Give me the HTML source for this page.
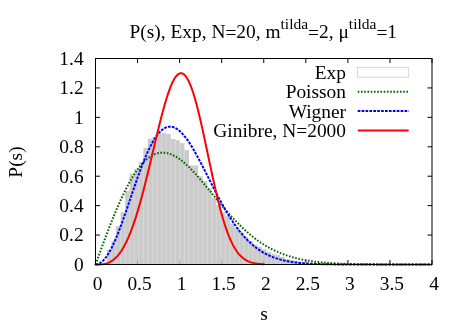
<!DOCTYPE html>
<html><head><meta charset="utf-8"><title>P(s)</title>
<style>
html,body{margin:0;padding:0;background:#fff;}
svg{display:block;will-change:transform;}
text{font-family:"Liberation Serif",serif;font-size:19.4px;fill:#000;}
</style></head><body>
<svg width="467" height="327" viewBox="0 0 467 327">
<rect width="467" height="327" fill="#fff"/>
<g stroke="#000" stroke-width="1" fill="none">
<path d="M95.50,264.5 v-4.5 M95.50,58.5 v4.5"/>
<path d="M137.56,264.5 v-4.5 M137.56,58.5 v4.5"/>
<path d="M179.62,264.5 v-4.5 M179.62,58.5 v4.5"/>
<path d="M221.69,264.5 v-4.5 M221.69,58.5 v4.5"/>
<path d="M263.75,264.5 v-4.5 M263.75,58.5 v4.5"/>
<path d="M305.81,264.5 v-4.5 M305.81,58.5 v4.5"/>
<path d="M347.88,264.5 v-4.5 M347.88,58.5 v4.5"/>
<path d="M389.94,264.5 v-4.5 M389.94,58.5 v4.5"/>
<path d="M432.00,264.5 v-4.5 M432.00,58.5 v4.5"/>
<path d="M95.5,264.50 h4.5 M432.0,264.50 h-4.5"/>
<path d="M95.5,235.07 h4.5 M432.0,235.07 h-4.5"/>
<path d="M95.5,205.64 h4.5 M432.0,205.64 h-4.5"/>
<path d="M95.5,176.21 h4.5 M432.0,176.21 h-4.5"/>
<path d="M95.5,146.79 h4.5 M432.0,146.79 h-4.5"/>
<path d="M95.5,117.36 h4.5 M432.0,117.36 h-4.5"/>
<path d="M95.5,87.93 h4.5 M432.0,87.93 h-4.5"/>
<path d="M95.5,58.50 h4.5 M432.0,58.50 h-4.5"/>
</g>
<g fill="#cbcbcb" stroke="none">
<path d="M106.90,264.50 L106.90,249.70 L111.46,249.70 L111.46,241.30 L116.02,241.30 L116.02,226.00 L120.58,226.00 L120.58,212.30 L125.14,212.30 L125.14,191.10 L129.70,191.10 L129.70,173.40 L134.26,173.40 L134.26,169.10 L138.82,169.10 L138.82,162.30 L143.38,162.30 L143.38,148.00 L147.94,148.00 L147.94,138.70 L152.50,138.70 L152.50,137.00 L157.06,137.00 L157.06,133.60 L161.62,133.60 L161.62,133.00 L166.18,133.00 L166.18,134.00 L170.74,134.00 L170.74,139.10 L175.30,139.10 L175.30,140.20 L179.86,140.20 L179.86,143.20 L184.42,143.20 L184.42,150.00 L188.98,150.00 L188.98,165.40 L193.54,165.40 L193.54,165.40 L198.10,165.40 L198.10,176.20 L202.66,176.20 L202.66,181.30 L207.22,181.30 L207.22,188.60 L211.78,188.60 L211.78,198.00 L216.34,198.00 L216.34,205.00 L220.90,205.00 L220.90,212.30 L225.46,212.30 L225.46,216.10 L230.02,216.10 L230.02,223.40 L234.58,223.40 L234.58,228.00 L239.14,228.00 L239.14,232.50 L243.70,232.50 L243.70,237.00 L248.26,237.00 L248.26,240.90 L252.82,240.90 L252.82,244.80 L257.38,244.80 L257.38,246.70 L261.94,246.70 L261.94,249.30 L266.50,249.30 L266.50,252.10 L271.06,252.10 L271.06,253.80 L275.62,253.80 L275.62,255.00 L280.18,255.00 L280.18,257.00 L284.74,257.00 L284.74,258.90 L289.30,258.90 L289.30,260.20 L293.86,260.20 L293.86,261.00 L298.42,261.00 L298.42,261.80 L302.98,261.80 L302.98,262.30 L307.54,262.30 L307.54,262.80 L312.10,262.80 L312.10,263.20 L316.66,263.20 L316.66,263.50 L321.22,263.50 L321.22,263.80 L325.78,263.80 L325.78,263.80 L330.34,263.80 L330.34,263.80 L334.90,263.80 L334.90,263.80 L339.46,263.80 L339.46,263.80 L344.02,263.80 L344.02,263.80 L348.58,263.80 L348.58,264.50 Z"/>
</g>
<g stroke="#fff" stroke-opacity="0.22" stroke-width="1.2" fill="none">
<path d="M111.46,249.70 V264.5"/>
<path d="M116.02,241.30 V264.5"/>
<path d="M120.58,226.00 V264.5"/>
<path d="M125.14,212.30 V264.5"/>
<path d="M129.70,191.10 V264.5"/>
<path d="M134.26,173.40 V264.5"/>
<path d="M138.82,169.10 V264.5"/>
<path d="M143.38,162.30 V264.5"/>
<path d="M147.94,148.00 V264.5"/>
<path d="M152.50,138.70 V264.5"/>
<path d="M157.06,137.00 V264.5"/>
<path d="M161.62,133.60 V264.5"/>
<path d="M166.18,134.00 V264.5"/>
<path d="M170.74,139.10 V264.5"/>
<path d="M175.30,140.20 V264.5"/>
<path d="M179.86,143.20 V264.5"/>
<path d="M184.42,150.00 V264.5"/>
<path d="M188.98,165.40 V264.5"/>
<path d="M193.54,165.40 V264.5"/>
<path d="M198.10,176.20 V264.5"/>
<path d="M202.66,181.30 V264.5"/>
<path d="M207.22,188.60 V264.5"/>
<path d="M211.78,198.00 V264.5"/>
<path d="M216.34,205.00 V264.5"/>
<path d="M220.90,212.30 V264.5"/>
<path d="M225.46,216.10 V264.5"/>
<path d="M230.02,223.40 V264.5"/>
<path d="M234.58,228.00 V264.5"/>
<path d="M239.14,232.50 V264.5"/>
<path d="M243.70,237.00 V264.5"/>
<path d="M248.26,240.90 V264.5"/>
<path d="M252.82,244.80 V264.5"/>
<path d="M257.38,246.70 V264.5"/>
<path d="M261.94,249.30 V264.5"/>
<path d="M266.50,252.10 V264.5"/>
<path d="M271.06,253.80 V264.5"/>
<path d="M275.62,255.00 V264.5"/>
<path d="M280.18,257.00 V264.5"/>
<path d="M284.74,258.90 V264.5"/>
<path d="M289.30,260.20 V264.5"/>
<path d="M293.86,261.00 V264.5"/>
<path d="M298.42,261.80 V264.5"/>
<path d="M302.98,262.30 V264.5"/>
<path d="M307.54,262.80 V264.5"/>
<path d="M312.10,263.20 V264.5"/>
<path d="M316.66,263.50 V264.5"/>
<path d="M321.22,263.80 V264.5"/>
<path d="M325.78,263.80 V264.5"/>
<path d="M330.34,263.80 V264.5"/>
<path d="M334.90,263.80 V264.5"/>
<path d="M339.46,263.80 V264.5"/>
<path d="M344.02,263.80 V264.5"/>
</g>
<g stroke="#000" stroke-opacity="0.22" stroke-width="1" fill="none">
<path d="M137.56,264.5 v-3.8"/>
<path d="M179.62,264.5 v-3.8"/>
<path d="M221.69,264.5 v-3.8"/>
<path d="M263.75,264.5 v-3.8"/>
</g>
<g fill="none" stroke-linejoin="round">
<path d="M95.50,264.50 L96.34,262.19 L97.18,259.88 L98.02,257.57 L98.86,255.27 L99.71,252.97 L100.55,250.67 L101.39,248.38 L102.23,246.10 L103.07,243.83 L103.91,241.57 L104.75,239.32 L105.59,237.08 L106.44,234.85 L107.28,232.64 L108.12,230.44 L108.96,228.26 L109.80,226.09 L110.64,223.94 L111.48,221.81 L112.33,219.70 L113.17,217.61 L114.01,215.55 L114.85,213.50 L115.69,211.48 L116.53,209.49 L117.37,207.51 L118.21,205.57 L119.06,203.65 L119.90,201.76 L120.74,199.89 L121.58,198.06 L122.42,196.25 L123.26,194.48 L124.10,192.74 L124.94,191.02 L125.78,189.35 L126.63,187.70 L127.47,186.09 L128.31,184.51 L129.15,182.97 L129.99,181.46 L130.83,179.98 L131.67,178.55 L132.51,177.15 L133.36,175.78 L134.20,174.46 L135.04,173.17 L135.88,171.92 L136.72,170.71 L137.56,169.54 L138.40,168.40 L139.25,167.31 L140.09,166.25 L140.93,165.24 L141.77,164.26 L142.61,163.32 L143.45,162.43 L144.29,161.57 L145.13,160.75 L145.97,159.98 L146.82,159.24 L147.66,158.54 L148.50,157.88 L149.34,157.27 L150.18,156.69 L151.02,156.15 L151.86,155.65 L152.71,155.19 L153.55,154.77 L154.39,154.39 L155.23,154.05 L156.07,153.74 L156.91,153.48 L157.75,153.25 L158.59,153.06 L159.44,152.90 L160.28,152.78 L161.12,152.70 L161.96,152.66 L162.80,152.65 L163.64,152.67 L164.48,152.73 L165.32,152.82 L166.16,152.95 L167.01,153.11 L167.85,153.31 L168.69,153.53 L169.53,153.79 L170.37,154.07 L171.21,154.39 L172.05,154.74 L172.90,155.12 L173.74,155.52 L174.58,155.96 L175.42,156.42 L176.26,156.91 L177.10,157.42 L177.94,157.96 L178.78,158.53 L179.62,159.12 L180.47,159.73 L181.31,160.37 L182.15,161.03 L182.99,161.71 L183.83,162.41 L184.67,163.13 L185.51,163.87 L186.36,164.63 L187.20,165.41 L188.04,166.21 L188.88,167.02 L189.72,167.85 L190.56,168.69 L191.40,169.55 L192.24,170.43 L193.08,171.32 L193.93,172.22 L194.77,173.13 L195.61,174.06 L196.45,174.99 L197.29,175.94 L198.13,176.89 L198.97,177.86 L199.81,178.83 L200.66,179.81 L201.50,180.80 L202.34,181.80 L203.18,182.80 L204.02,183.81 L204.86,184.82 L205.70,185.84 L206.55,186.86 L207.39,187.88 L208.23,188.90 L209.07,189.93 L209.91,190.96 L210.75,191.99 L211.59,193.02 L212.43,194.06 L213.28,195.09 L214.12,196.12 L214.96,197.15 L215.80,198.17 L216.64,199.20 L217.48,200.22 L218.32,201.24 L219.16,202.25 L220.00,203.27 L220.85,204.27 L221.69,205.28 L222.53,206.28 L223.37,207.27 L224.21,208.26 L225.05,209.24 L225.89,210.21 L226.74,211.18 L227.58,212.14 L228.42,213.09 L229.26,214.04 L230.10,214.98 L230.94,215.91 L231.78,216.83 L232.62,217.75 L233.47,218.65 L234.31,219.55 L235.15,220.44 L235.99,221.32 L236.83,222.19 L237.67,223.05 L238.51,223.90 L239.35,224.74 L240.19,225.57 L241.04,226.39 L241.88,227.20 L242.72,228.00 L243.56,228.79 L244.40,229.57 L245.24,230.34 L246.08,231.09 L246.93,231.84 L247.77,232.58 L248.61,233.30 L249.45,234.02 L250.29,234.72 L251.13,235.42 L251.97,236.10 L252.81,236.77 L253.66,237.43 L254.50,238.08 L255.34,238.72 L256.18,239.35 L257.02,239.97 L257.86,240.57 L258.70,241.17 L259.54,241.76 L260.38,242.33 L261.23,242.89 L262.07,243.45 L262.91,243.99 L263.75,244.52 L264.59,245.05 L265.43,245.56 L266.27,246.06 L267.12,246.55 L267.96,247.04 L268.80,247.51 L269.64,247.97 L270.48,248.42 L271.32,248.87 L272.16,249.30 L273.00,249.72 L273.85,250.14 L274.69,250.55 L275.53,250.94 L276.37,251.33 L277.21,251.71 L278.05,252.08 L278.89,252.44 L279.73,252.79 L280.58,253.14 L281.42,253.48 L282.26,253.81 L283.10,254.13 L283.94,254.44 L284.78,254.74 L285.62,255.04 L286.46,255.33 L287.31,255.62 L288.15,255.89 L288.99,256.16 L289.83,256.42 L290.67,256.68 L291.51,256.92 L292.35,257.17 L293.19,257.40 L294.03,257.63 L294.88,257.85 L295.72,258.07 L296.56,258.28 L297.40,258.48 L298.24,258.68 L299.08,258.88 L299.92,259.06 L300.76,259.25 L301.61,259.42 L302.45,259.60 L303.29,259.76 L304.13,259.92 L304.97,260.08 L305.81,260.23 L306.65,260.38 L307.50,260.53 L308.34,260.67 L309.18,260.80 L310.02,260.93 L310.86,261.06 L311.70,261.18 L312.54,261.30 L313.38,261.42 L314.23,261.53 L315.07,261.64 L315.91,261.74 L316.75,261.84 L317.59,261.94 L318.43,262.04 L319.27,262.13 L320.11,262.22 L320.96,262.30 L321.80,262.38 L322.64,262.46 L323.48,262.54 L324.32,262.62 L325.16,262.69 L326.00,262.76 L326.84,262.83 L327.69,262.89 L328.53,262.95 L329.37,263.01 L330.21,263.07 L331.05,263.13 L331.89,263.18 L332.73,263.24 L333.57,263.29 L334.41,263.34 L335.26,263.38 L336.10,263.43 L336.94,263.47 L337.78,263.51 L338.62,263.55 L339.46,263.59 L340.30,263.63 L341.14,263.67 L341.99,263.70 L342.83,263.73 L343.67,263.77 L344.51,263.80 L345.35,263.83 L346.19,263.86 L347.03,263.88 L347.88,263.91 L348.72,263.93 L349.56,263.96 L350.40,263.98 L351.24,264.01 L352.08,264.03 L352.92,264.05 L353.76,264.07 L354.61,264.09 L355.45,264.10 L356.29,264.12 L357.13,264.14 L357.97,264.16 L358.81,264.17 L359.65,264.19 L360.49,264.20 L361.34,264.21 L362.18,264.23 L363.02,264.24 L363.86,264.25 L364.70,264.26 L365.54,264.27 L366.38,264.28 L367.22,264.29 L368.06,264.30 L368.91,264.31 L369.75,264.32 L370.59,264.33 L371.43,264.34 L372.27,264.35 L373.11,264.35 L373.95,264.36 L374.80,264.37 L375.64,264.37 L376.48,264.38 L377.32,264.38 L378.16,264.39 L379.00,264.40 L379.84,264.40 L380.68,264.41 L381.52,264.41 L382.37,264.41 L383.21,264.42 L384.05,264.42 L384.89,264.43 L385.73,264.43 L386.57,264.43 L387.41,264.44 L388.25,264.44 L389.10,264.44 L389.94,264.45 L390.78,264.45 L391.62,264.45 L392.46,264.45 L393.30,264.46 L394.14,264.46 L394.99,264.46 L395.83,264.46 L396.67,264.46 L397.51,264.47 L398.35,264.47 L399.19,264.47 L400.03,264.47 L400.87,264.47 L401.72,264.47 L402.56,264.48 L403.40,264.48 L404.24,264.48 L405.08,264.48 L405.92,264.48 L406.76,264.48 L407.60,264.48 L408.44,264.48 L409.29,264.48 L410.13,264.49 L410.97,264.49 L411.81,264.49 L412.65,264.49 L413.49,264.49 L414.33,264.49 L415.18,264.49 L416.02,264.49 L416.86,264.49 L417.70,264.49 L418.54,264.49 L419.38,264.49 L420.22,264.49 L421.06,264.49 L421.90,264.49 L422.75,264.49 L423.59,264.49 L424.43,264.49 L425.27,264.49 L426.11,264.50 L426.95,264.50 L427.79,264.50 L428.63,264.50 L429.48,264.50 L430.32,264.50 L431.16,264.50 L432.00,264.50" stroke="#006400" stroke-width="2" stroke-dasharray="1.6 1.65"/>
<path d="M95.50,264.50 L96.34,264.45 L97.18,264.31 L98.02,264.07 L98.86,263.74 L99.71,263.31 L100.55,262.79 L101.39,262.18 L102.23,261.47 L103.07,260.68 L103.91,259.79 L104.75,258.82 L105.59,257.75 L106.44,256.61 L107.28,255.38 L108.12,254.07 L108.96,252.68 L109.80,251.21 L110.64,249.67 L111.48,248.05 L112.33,246.36 L113.17,244.61 L114.01,242.79 L114.85,240.91 L115.69,238.96 L116.53,236.96 L117.37,234.91 L118.21,232.80 L119.06,230.65 L119.90,228.45 L120.74,226.21 L121.58,223.93 L122.42,221.62 L123.26,219.27 L124.10,216.90 L124.94,214.50 L125.78,212.08 L126.63,209.64 L127.47,207.18 L128.31,204.71 L129.15,202.24 L129.99,199.76 L130.83,197.27 L131.67,194.79 L132.51,192.32 L133.36,189.85 L134.20,187.39 L135.04,184.95 L135.88,182.53 L136.72,180.12 L137.56,177.75 L138.40,175.39 L139.25,173.07 L140.09,170.78 L140.93,168.53 L141.77,166.32 L142.61,164.14 L143.45,162.01 L144.29,159.92 L145.13,157.89 L145.97,155.90 L146.82,153.97 L147.66,152.09 L148.50,150.26 L149.34,148.50 L150.18,146.80 L151.02,145.15 L151.86,143.58 L152.71,142.06 L153.55,140.61 L154.39,139.23 L155.23,137.92 L156.07,136.68 L156.91,135.51 L157.75,134.41 L158.59,133.38 L159.44,132.42 L160.28,131.54 L161.12,130.73 L161.96,129.99 L162.80,129.33 L163.64,128.74 L164.48,128.23 L165.32,127.79 L166.16,127.42 L167.01,127.12 L167.85,126.90 L168.69,126.75 L169.53,126.67 L170.37,126.66 L171.21,126.72 L172.05,126.85 L172.90,127.05 L173.74,127.32 L174.58,127.65 L175.42,128.05 L176.26,128.50 L177.10,129.03 L177.94,129.61 L178.78,130.25 L179.62,130.95 L180.47,131.71 L181.31,132.53 L182.15,133.39 L182.99,134.31 L183.83,135.28 L184.67,136.30 L185.51,137.36 L186.36,138.47 L187.20,139.63 L188.04,140.82 L188.88,142.06 L189.72,143.33 L190.56,144.64 L191.40,145.99 L192.24,147.36 L193.08,148.77 L193.93,150.21 L194.77,151.67 L195.61,153.16 L196.45,154.68 L197.29,156.21 L198.13,157.77 L198.97,159.35 L199.81,160.94 L200.66,162.55 L201.50,164.17 L202.34,165.80 L203.18,167.44 L204.02,169.09 L204.86,170.75 L205.70,172.41 L206.55,174.08 L207.39,175.75 L208.23,177.42 L209.07,179.09 L209.91,180.76 L210.75,182.43 L211.59,184.09 L212.43,185.75 L213.28,187.40 L214.12,189.05 L214.96,190.68 L215.80,192.30 L216.64,193.92 L217.48,195.52 L218.32,197.11 L219.16,198.68 L220.00,200.24 L220.85,201.79 L221.69,203.32 L222.53,204.83 L223.37,206.33 L224.21,207.80 L225.05,209.26 L225.89,210.70 L226.74,212.12 L227.58,213.52 L228.42,214.90 L229.26,216.26 L230.10,217.59 L230.94,218.91 L231.78,220.20 L232.62,221.47 L233.47,222.71 L234.31,223.94 L235.15,225.14 L235.99,226.32 L236.83,227.47 L237.67,228.60 L238.51,229.71 L239.35,230.80 L240.19,231.86 L241.04,232.90 L241.88,233.91 L242.72,234.90 L243.56,235.87 L244.40,236.82 L245.24,237.74 L246.08,238.64 L246.93,239.52 L247.77,240.38 L248.61,241.21 L249.45,242.03 L250.29,242.82 L251.13,243.59 L251.97,244.34 L252.81,245.06 L253.66,245.77 L254.50,246.46 L255.34,247.13 L256.18,247.77 L257.02,248.40 L257.86,249.01 L258.70,249.60 L259.54,250.18 L260.38,250.73 L261.23,251.27 L262.07,251.79 L262.91,252.30 L263.75,252.78 L264.59,253.25 L265.43,253.71 L266.27,254.15 L267.12,254.58 L267.96,254.99 L268.80,255.38 L269.64,255.77 L270.48,256.14 L271.32,256.49 L272.16,256.84 L273.00,257.17 L273.85,257.48 L274.69,257.79 L275.53,258.09 L276.37,258.37 L277.21,258.64 L278.05,258.91 L278.89,259.16 L279.73,259.40 L280.58,259.63 L281.42,259.86 L282.26,260.07 L283.10,260.28 L283.94,260.48 L284.78,260.67 L285.62,260.85 L286.46,261.02 L287.31,261.19 L288.15,261.35 L288.99,261.50 L289.83,261.65 L290.67,261.79 L291.51,261.92 L292.35,262.05 L293.19,262.17 L294.03,262.29 L294.88,262.40 L295.72,262.51 L296.56,262.61 L297.40,262.71 L298.24,262.80 L299.08,262.89 L299.92,262.97 L300.76,263.05 L301.61,263.13 L302.45,263.20 L303.29,263.27 L304.13,263.33 L304.97,263.40 L305.81,263.46 L306.65,263.51 L307.50,263.57 L308.34,263.62 L309.18,263.67 L310.02,263.71 L310.86,263.76 L311.70,263.80 L312.54,263.84 L313.38,263.88 L314.23,263.91 L315.07,263.94 L315.91,263.98 L316.75,264.01 L317.59,264.03 L318.43,264.06 L319.27,264.09 L320.11,264.11 L320.96,264.13 L321.80,264.16 L322.64,264.18 L323.48,264.20 L324.32,264.21 L325.16,264.23 L326.00,264.25 L326.84,264.26 L327.69,264.28 L328.53,264.29 L329.37,264.30 L330.21,264.32 L331.05,264.33 L331.89,264.34 L332.73,264.35 L333.57,264.36 L334.41,264.37 L335.26,264.38 L336.10,264.38 L336.94,264.39 L337.78,264.40 L338.62,264.40 L339.46,264.41 L340.30,264.42 L341.14,264.42 L341.99,264.43 L342.83,264.43 L343.67,264.44 L344.51,264.44 L345.35,264.44 L346.19,264.45 L347.03,264.45 L347.88,264.45 L348.72,264.46 L349.56,264.46 L350.40,264.46 L351.24,264.47 L352.08,264.47 L352.92,264.47 L353.76,264.47 L354.61,264.47 L355.45,264.48 L356.29,264.48 L357.13,264.48 L357.97,264.48 L358.81,264.48 L359.65,264.48 L360.49,264.48 L361.34,264.49 L362.18,264.49 L363.02,264.49 L363.86,264.49 L364.70,264.49 L365.54,264.49 L366.38,264.49 L367.22,264.49 L368.06,264.49 L368.91,264.49 L369.75,264.49 L370.59,264.49 L371.43,264.49 L372.27,264.49 L373.11,264.50 L373.95,264.50 L374.80,264.50 L375.64,264.50 L376.48,264.50 L377.32,264.50 L378.16,264.50 L379.00,264.50 L379.84,264.50 L380.68,264.50 L381.52,264.50 L382.37,264.50 L383.21,264.50 L384.05,264.50 L384.89,264.50 L385.73,264.50 L386.57,264.50 L387.41,264.50 L388.25,264.50 L389.10,264.50 L389.94,264.50 L390.78,264.50 L391.62,264.50 L392.46,264.50 L393.30,264.50 L394.14,264.50 L394.99,264.50 L395.83,264.50 L396.67,264.50 L397.51,264.50 L398.35,264.50 L399.19,264.50 L400.03,264.50 L400.87,264.50 L401.72,264.50 L402.56,264.50 L403.40,264.50 L404.24,264.50 L405.08,264.50 L405.92,264.50 L406.76,264.50 L407.60,264.50 L408.44,264.50 L409.29,264.50 L410.13,264.50 L410.97,264.50 L411.81,264.50 L412.65,264.50 L413.49,264.50 L414.33,264.50 L415.18,264.50 L416.02,264.50 L416.86,264.50 L417.70,264.50 L418.54,264.50 L419.38,264.50 L420.22,264.50 L421.06,264.50 L421.90,264.50 L422.75,264.50 L423.59,264.50 L424.43,264.50 L425.27,264.50 L426.11,264.50 L426.95,264.50 L427.79,264.50 L428.63,264.50 L429.48,264.50 L430.32,264.50 L431.16,264.50 L432.00,264.50" stroke="#0000ff" stroke-width="2" stroke-dasharray="2.7 1.2"/>
<path d="M95.50,264.50 L96.34,264.50 L97.18,264.50 L98.02,264.49 L98.86,264.47 L99.71,264.44 L100.55,264.39 L101.39,264.33 L102.23,264.24 L103.07,264.14 L103.91,264.00 L104.75,263.84 L105.59,263.64 L106.44,263.41 L107.28,263.14 L108.12,262.83 L108.96,262.48 L109.80,262.08 L110.64,261.63 L111.48,261.14 L112.33,260.59 L113.17,259.98 L114.01,259.32 L114.85,258.60 L115.69,257.81 L116.53,256.97 L117.37,256.05 L118.21,255.07 L119.06,254.03 L119.90,252.91 L120.74,251.72 L121.58,250.45 L122.42,249.11 L123.26,247.70 L124.10,246.20 L124.94,244.63 L125.78,242.98 L126.63,241.26 L127.47,239.45 L128.31,237.56 L129.15,235.59 L129.99,233.54 L130.83,231.41 L131.67,229.20 L132.51,226.91 L133.36,224.54 L134.20,222.09 L135.04,219.56 L135.88,216.96 L136.72,214.29 L137.56,211.53 L138.40,208.71 L139.25,205.82 L140.09,202.86 L140.93,199.84 L141.77,196.75 L142.61,193.60 L143.45,190.40 L144.29,187.14 L145.13,183.83 L145.97,180.48 L146.82,177.09 L147.66,173.65 L148.50,170.19 L149.34,166.69 L150.18,163.17 L151.02,159.64 L151.86,156.09 L152.71,152.53 L153.55,148.97 L154.39,145.41 L155.23,141.86 L156.07,138.33 L156.91,134.82 L157.75,131.35 L158.59,127.90 L159.44,124.50 L160.28,121.15 L161.12,117.86 L161.96,114.63 L162.80,111.47 L163.64,108.39 L164.48,105.39 L165.32,102.49 L166.16,99.68 L167.01,96.98 L167.85,94.40 L168.69,91.93 L169.53,89.59 L170.37,87.38 L171.21,85.32 L172.05,83.39 L172.90,81.62 L173.74,80.01 L174.58,78.55 L175.42,77.27 L176.26,76.15 L177.10,75.21 L177.94,74.44 L178.78,73.86 L179.62,73.46 L180.47,73.25 L181.31,73.23 L182.15,73.40 L182.99,73.76 L183.83,74.31 L184.67,75.06 L185.51,75.99 L186.36,77.11 L187.20,78.42 L188.04,79.91 L188.88,81.58 L189.72,83.43 L190.56,85.46 L191.40,87.65 L192.24,90.01 L193.08,92.53 L193.93,95.20 L194.77,98.01 L195.61,100.96 L196.45,104.05 L197.29,107.26 L198.13,110.58 L198.97,114.01 L199.81,117.54 L200.66,121.15 L201.50,124.85 L202.34,128.62 L203.18,132.45 L204.02,136.33 L204.86,140.25 L205.70,144.21 L206.55,148.18 L207.39,152.18 L208.23,156.17 L209.07,160.17 L209.91,164.15 L210.75,168.10 L211.59,172.03 L212.43,175.92 L213.28,179.76 L214.12,183.55 L214.96,187.28 L215.80,190.95 L216.64,194.54 L217.48,198.05 L218.32,201.48 L219.16,204.82 L220.00,208.07 L220.85,211.22 L221.69,214.27 L222.53,217.22 L223.37,220.07 L224.21,222.81 L225.05,225.44 L225.89,227.97 L226.74,230.39 L227.58,232.70 L228.42,234.90 L229.26,237.00 L230.10,238.99 L230.94,240.88 L231.78,242.66 L232.62,244.35 L233.47,245.94 L234.31,247.43 L235.15,248.83 L235.99,250.14 L236.83,251.37 L237.67,252.51 L238.51,253.58 L239.35,254.57 L240.19,255.48 L241.04,256.33 L241.88,257.11 L242.72,257.83 L243.56,258.49 L244.40,259.10 L245.24,259.65 L246.08,260.16 L246.93,260.62 L247.77,261.04 L248.61,261.42 L249.45,261.77 L250.29,262.08 L251.13,262.36 L251.97,262.61 L252.81,262.84 L253.66,263.04 L254.50,263.22 L255.34,263.38 L256.18,263.52 L257.02,263.65 L257.86,263.76 L258.70,263.86 L259.54,263.95 L260.38,264.02 L261.23,264.09 L262.07,264.15 L262.91,264.20 L263.75,264.24" stroke="#ff0000" stroke-width="2" stroke-linecap="round"/>
</g>
<rect x="95.5" y="58.5" width="336.5" height="206.0" fill="none" stroke="#000" stroke-width="1"/>
<!-- legend -->
<rect x="357.4" y="67.3" width="51" height="9.9" fill="#fff" stroke="#d6d6d6" stroke-width="1"/>
<path d="M357.7,91.8 H408.5" stroke="#006400" stroke-width="2" stroke-dasharray="1.6 1.65" fill="none"/>
<path d="M357.7,111 H408.8" stroke="#0000ff" stroke-width="2" stroke-dasharray="2.7 1.2" fill="none"/>
<path d="M358.7,130.5 H407.8" stroke="#ff0000" stroke-width="2" stroke-linecap="round" fill="none"/>
<g text-anchor="end">
<text x="346" y="78.5">Exp</text>
<text x="346" y="97.8">Poisson</text>
<text x="346" y="117.6">Wigner</text>
<text x="346" y="136.8">Ginibre, N=2000</text>
</g>
<text x="97.50" y="290.3" text-anchor="middle">0</text>
<text x="139.56" y="290.3" text-anchor="middle">0.5</text>
<text x="181.62" y="290.3" text-anchor="middle">1</text>
<text x="223.69" y="290.3" text-anchor="middle">1.5</text>
<text x="265.75" y="290.3" text-anchor="middle">2</text>
<text x="307.81" y="290.3" text-anchor="middle">2.5</text>
<text x="349.88" y="290.3" text-anchor="middle">3</text>
<text x="391.94" y="290.3" text-anchor="middle">3.5</text>
<text x="434.00" y="290.3" text-anchor="middle">4</text>
<text x="83.6" y="270.80" text-anchor="end">0</text>
<text x="83.6" y="241.37" text-anchor="end">0.2</text>
<text x="83.6" y="211.94" text-anchor="end">0.4</text>
<text x="83.6" y="182.51" text-anchor="end">0.6</text>
<text x="83.6" y="153.09" text-anchor="end">0.8</text>
<text x="83.6" y="123.66" text-anchor="end">1</text>
<text x="83.6" y="94.23" text-anchor="end">1.2</text>
<text x="83.6" y="64.80" text-anchor="end">1.4</text>
<text x="263.3" y="37.6" text-anchor="middle">P(s), Exp, N<tspan dy="1.6">=</tspan><tspan dy="-1.6">20, m</tspan><tspan dy="-9" font-size="15.52">tilda</tspan><tspan dy="10.6">=</tspan><tspan dy="-1.6">2, μ</tspan><tspan dy="-9" font-size="15.52">tilda</tspan><tspan dy="10.6">=</tspan><tspan dy="-1.6">1</tspan></text>
<text x="264" y="319.5" text-anchor="middle">s</text>
<text transform="translate(22.3,162) rotate(-90)" text-anchor="middle">P(s)</text>
</svg>
</body></html>
